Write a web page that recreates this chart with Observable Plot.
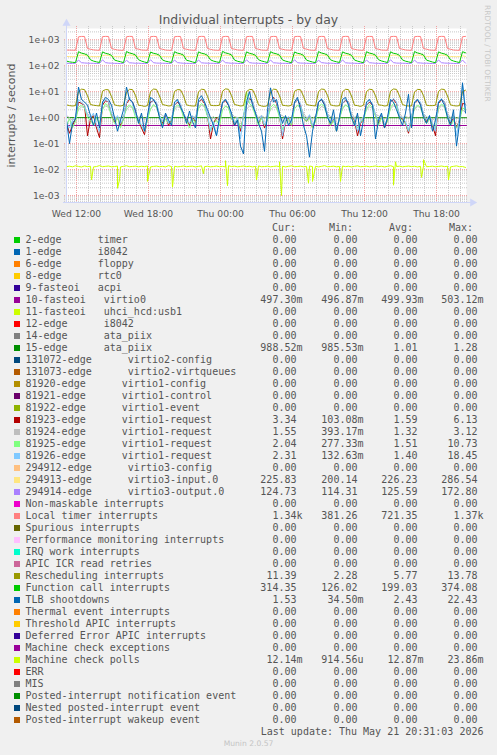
<!DOCTYPE html>
<html><head><meta charset="utf-8">
<script src="https://cdn.jsdelivr.net/npm/d3@7"></script>
<script src="https://cdn.jsdelivr.net/npm/@observablehq/plot@0.6"></script>
<style>
body{margin:0;background:#f0f0f0;width:497px;height:755px;position:relative;overflow:hidden;font-family:"DejaVu Sans",sans-serif;}
#chart{position:absolute;left:0;top:0;}
.title{position:absolute;left:0;width:497px;top:12px;text-align:center;font-size:12.4px;line-height:15px;color:#555;}
.wm{position:absolute;left:483px;top:5px;writing-mode:vertical-rl;font-size:7.5px;line-height:9px;color:#c8c8c8;white-space:nowrap;}
.mono{position:absolute;font-family:"DejaVu Sans Mono",monospace;font-size:10px;line-height:12px;color:#555;white-space:pre;}
.sw{position:absolute;width:6px;height:6px;}
.munin{position:absolute;left:0;width:497px;top:739px;text-align:center;font-size:7.6px;line-height:10px;color:#c4c4c4;}
</style></head>
<body>
<div class="title">Individual interrupts - by day</div>
<div class="wm">RRDTOOL / TOBI OETIKER</div>
<div id="chart"></div>
<div id="legend"></div>
<div class="munin">Munin 2.0.57</div>
<script>
// ---------- axis data ----------
const startTime = "2026-05-20T11:10:00Z";
const endTime = "2026-05-21T20:30:00Z";
const stepMinutes = 15;
const xTickTimes = ["2026-05-20T12:00:00Z","2026-05-20T18:00:00Z","2026-05-21T00:00:00Z","2026-05-21T06:00:00Z","2026-05-21T12:00:00Z","2026-05-21T18:00:00Z"];
const xTickLabels = ["Wed 12:00","Wed 18:00","Thu 00:00","Thu 06:00","Thu 12:00","Thu 18:00"];
const yTickValues = [1e-3,1e-2,1e-1,1,10,100,1000];
const yTickLabels = ["1e-03","1e-02","1e-01","1e+00","1e+01","1e+02","1e+03"];
const yDomain = [5.4e-4, 2.7e3];

// ---------- series (15-minute samples) ----------
const localTimer = [
400,398,395,392,1290,1335,1330,455,
430,405,395,390,1310,1340,1325,460,
425,400,392,390,1300,1345,1330,450,
435,402,395,392,1305,1340,1320,455,
428,400,390,388,1300,1335,1330,450,
430,404,394,390,1310,1345,1330,458,
426,400,392,390,1295,1340,1325,452,
432,402,395,391,1305,1340,1330,455,
430,400,393,389,1300,1338,1328,450,
428,403,395,392,1310,1342,1330,456,
434,401,392,390,1300,1340,1326,452,
430,400,394,390,1305,1345,1332,455,
427,402,393,391,1300,1338,1328,450,
431,400,395,390,1308,1342,1330,457,
429,403,392,389,1302,1340,1327,452,
433,401,394,391,1305,1345,1330,455,
430,400,393,390,1300,1340];
const functionCall = [
150,140,135,132,345,305,285,255,
168,150,140,133,340,300,280,250,
165,152,142,131,350,310,288,258,
170,150,138,130,335,300,282,252,
166,149,141,132,345,305,286,255,
162,151,139,130,340,302,284,250,
168,150,140,133,355,312,290,260,
165,148,139,131,340,300,280,252,
170,152,142,132,345,305,285,255,
166,150,140,130,338,300,283,250,
164,149,138,131,348,308,288,256,
168,151,141,133,340,302,282,252,
165,150,139,130,345,305,286,255,
170,152,142,132,342,300,284,250,
166,149,140,131,350,310,289,258,
164,150,138,130,340,303,283,252,
168,151,141,132,345,314];
const virtio3Input = [
226,224,222,224,240,258,250,232,
227,224,223,225,242,255,248,230,
226,223,222,224,238,260,251,233,
228,225,223,224,241,256,249,231,
226,224,222,223,240,259,250,232,
227,224,223,225,243,257,248,230,
225,223,222,224,239,258,251,233,
227,225,223,224,241,256,249,231,
226,224,222,223,240,260,250,232,
228,224,223,225,242,257,248,230,
226,223,222,224,238,258,251,233,
227,225,223,224,241,256,249,231,
226,224,222,223,240,259,250,232,
227,224,223,225,243,257,248,230,
225,223,222,224,239,258,251,233,
227,225,223,224,241,256,249,231,
226,224,222,224,240,226];
const virtio3Output = [
124,122,121,123,165,130,127,125,
124,123,121,122,168,131,126,125,
123,122,120,123,162,129,127,124,
125,122,121,122,170,130,126,125,
124,123,121,123,165,131,127,124,
123,122,120,122,166,129,126,125,
124,123,121,123,164,130,127,124,
125,122,121,122,168,131,126,125,
124,122,120,123,165,129,127,124,
123,123,121,122,170,130,126,125,
124,122,121,123,163,131,127,124,
125,123,120,122,167,129,126,125,
124,122,121,123,165,130,127,124,
123,122,121,122,169,131,126,125,
124,123,120,123,164,129,127,124,
125,122,121,122,166,130,126,125,
124,122,121,123,165,125];
const rescheduling = [
3.1,2.9,2.8,2.9,10,12.5,12,7,
3.2,3.0,2.9,2.8,10.5,12,11.8,6.5,
3.1,2.9,2.8,3.0,9.5,12.3,12,7.2,
3.0,2.9,2.7,2.9,10,12.6,12.2,6.8,
3.2,3.0,2.8,2.9,10.2,12,11.7,7,
3.1,2.9,2.8,2.8,9.8,12.4,12,6.6,
3.0,2.9,2.9,3.0,10.4,12.8,12.3,7.1,
3.2,3.0,2.8,2.9,10,12.2,11.9,6.9,
3.1,2.8,2.7,2.9,9.6,12.5,12.1,7,
3.0,2.9,2.8,3.0,10.3,12,11.8,6.7,
3.2,3.0,2.9,2.8,10,12.6,12.2,7.2,
3.1,2.9,2.8,2.9,9.9,12.3,12,6.8,
3.0,2.9,2.7,3.0,10.1,12.4,11.9,7,
3.1,3.0,2.8,2.9,10.5,12.7,12.2,6.9,
3.2,2.9,2.8,2.8,9.7,12.2,12,7.1,
3.0,2.9,2.9,3.0,10.2,12.5,12.1,6.8,
3.1,2.9,2.8,2.9,10,11.4];
const tlbShootdowns = [
0.8,0.1,0.6,0.9,15,5,4,3,
1.2,0.5,1.5,0.4,4,6,5,3,
1,0.3,0.8,2,15,5,4,2,
0.6,1.5,0.3,1.2,6,5,3,1,
0.4,1.5,0.8,0.5,4,5,2.5,1.5,
0.6,1.8,0.7,0.4,5,7,4,2,
1,0.5,0.2,1,4,5,3,1.5,
0.5,0.8,0.08,0.04,4,10,3,1.5,
0.6,0.3,0.05,2,14,4,5,1.5,
0.6,1.2,0.5,0.8,4,6,2,0.5,
0.2,0.03,0.3,1,4,5,3,1,
0.6,2,0.3,1,5,6,3,1,
0.5,1.5,0.2,0.8,4,5,3,0.15,
0.8,1.5,0.4,1,5,4,2,1,
0.5,1.5,8,0.4,4,5,3,1,
0.6,1.2,0.3,0.8,4,5,3,1,
0.5,2,0.08,0.6,22,1.5];
const req81923 = [
0.6,0.25,0.5,0.9,4,3.5,3,0.2,
0.9,1.2,0.4,0.17,3,4.5,4,1.2,
0.7,1,0.5,0.9,3.5,5,4,1.5,
0.8,0.4,0.22,1,4,4.5,3.5,1.1,
0.6,1.3,0.5,0.8,3,4,3,1.3,
0.9,0.5,1.1,0.7,4,5,3.5,1.2,
0.15,0.6,1,0.8,3.5,4.5,3,1,
0.5,0.9,0.3,1.2,3,5.5,4,1.4,
0.6,1.1,0.4,0.9,4,6,3.5,1.2,
0.15,0.7,1,0.5,3.5,5,3,1,
0.7,1.2,0.4,0.8,4,5,3.5,1.3,
0.5,0.9,0.3,1,3.5,4.5,4,1.1,
0.8,0.2,0.6,0.9,3,4,3,1.2,
0.6,1.2,0.4,0.8,4,5,3.5,1,
0.9,0.6,0.25,1,3.5,4.5,3.5,1.3,
0.7,1.1,0.5,0.2,3.5,5,4,1.2,
0.6,1,0.4,0.8,3.5,3.3];
const req81924 = [
1.2,1,0.8,1.1,2,2.6,2.4,1.4,
1,1.3,0.9,1,2.2,2.8,2.5,1.5,
1.1,0.9,1,1.2,2,2.7,2.3,1.4,
1,1.2,0.8,1.1,2.1,2.9,2.5,1.5,
1.2,1,0.9,1,2,2.6,2.4,1.3,
1,1.3,1,1.1,2.2,3,2.6,1.5,
0.9,1.1,0.8,1.2,2,2.7,2.3,1.4,
1.1,1,0.9,1,2.1,2.8,2.5,1.5,
1,1.2,1,1.1,2,2.6,2.4,1.3,
1.2,0.9,0.8,1,2.2,2.9,2.5,1.5,
1,1.1,0.9,1.2,2,2.7,2.4,1.4,
1.1,1,1,1,2.1,3.1,2.6,1.5,
1,1.2,0.8,1.1,2,2.6,2.3,1.3,
1.2,1,0.9,1,2.2,2.8,2.5,1.5,
1,1.1,1,1.2,2,2.7,2.4,1.4,
1.1,0.9,0.8,1,2.1,2.9,2.5,1.5,
1,1.2,0.9,1.1,2,1.6];
const req81925 = [
0.5,0.9,0.4,0.7,2.5,3,2.5,1,
0.8,0.5,1,0.6,2,3.5,2.8,1.1,
0.6,1,0.4,0.9,2.5,3,2.6,1,
0.7,0.5,0.3,0.8,2.2,3.2,2.5,1.2,
0.5,0.9,0.6,0.7,2.4,3,2.6,1,
0.8,0.4,0.9,0.6,2.5,3.5,2.8,1.1,
0.3,0.6,0.8,0.5,2,2.8,2.4,0.9,
0.6,0.9,0.4,1,10,3.5,2.7,1.1,
0.5,1,0.5,0.8,2.5,3.2,2.6,1,
0.35,0.6,0.9,0.5,2.2,3,2.5,1,
0.7,1,0.4,0.7,2.6,3.3,2.7,1.1,
0.5,0.8,0.3,0.9,2.4,3,2.6,1,
0.6,0.4,0.7,0.8,2.2,3.2,2.5,1.1,
0.5,1,0.5,0.7,2.5,3.5,2.8,1,
0.8,0.6,0.3,0.9,2.3,3,2.6,1.1,
0.6,0.9,0.5,0.4,2.5,3.3,2.7,1,
0.5,0.8,0.4,0.7,2.4,2.0];
const req81926 = [
0.6,0.4,0.8,1,5,4,3,1.2,
1,1.5,0.5,0.3,3.5,5,4,1.5,
0.8,1.2,0.6,1,4,6,3.5,1.3,
0.9,0.5,0.3,1.1,3.5,5,4,1.2,
0.7,1.4,0.6,0.9,3,4.5,3.5,1.4,
1,0.6,1.2,0.8,4,5.5,4,1.3,
0.3,0.7,0.2,0.9,3.5,5,3.5,1.1,
0.6,1,0.15,1.3,3,6,4.5,1.5,
0.7,1.2,0.5,1,4,5.5,4,1.3,
0.2,0.8,1.1,0.6,3.5,5,3.5,1.1,
0.8,1.3,0.5,0.9,4,5.5,4,1.4,
0.6,1,0.3,1.1,3.5,5,4,1.2,
0.9,0.3,0.7,1,3,4.5,3.5,1.3,
0.7,1.3,0.5,0.9,4,5.5,4,1.1,
1,0.7,0.3,1.1,3.5,5,4,1.4,
0.8,1.2,0.6,0.3,4,5.5,4,1.3,
0.7,1.1,0.2,0.9,18,2.3];
const mcPolls = [
0.013,0.0135,0.0128,0.014,0.0132,0.0126,0.0138,0.013,
0.0134,0.0127,0.0131,0.0142,0.0129,0.0133,0.0137,0.0128,
0.0131,0.0136,0.0127,0.0133,0.014,0.0129,0.0132,0.0135,
0.0128,0.0134,0.013,0.0138,0.0127,0.0132,0.0136,0.0129,
0.0133,0.0127,0.0141,0.013,0.0134,0.0128,0.0131,0.0137,
0.0129,0.0133,0.0135,0.0127,0.0132,0.0139,0.013,0.0134,
0.0128,0.0131,0.0136,0.0129,0.0133,0.0127,0.014,0.0131,
0.0135,0.0128,0.0132,0.0137,0.013,0.0134,0.0127,0.0133,
0.0138,0.0129,0.0131,0.0135,0.0128,0.0132,0.0136,0.013,
0.0134,0.0127,0.0133,0.0139,0.0129,0.0131,0.0135,0.0128,
0.0132,0.0137,0.013,0.0134,0.0127,0.0133,0.0141,0.0129,
0.0131,0.0135,0.0128,0.0132,0.0136,0.013,0.0134,0.0127,
0.0133,0.0138,0.0129,0.0131,0.0135,0.0128,0.0132,0.0137,
0.013,0.0134,0.0127,0.0133,0.014,0.0129,0.0131,0.0135,
0.0128,0.0132,0.0136,0.013,0.0134,0.0127,0.0133,0.0138,
0.0129,0.0131,0.0135,0.0128,0.0132,0.0137,0.013,0.0134,
0.0127,0.0133,0.0139,0.0129,0.0131,0.0121];
// narrow excursions of machine check polls: 5-minute step index from start, value
const mcPollSpikeSteps = [25,51,53,81,106,137,159,161,190,213,215,242,246,274,327,329,355,357,382];
const mcPollSpikeValues = [0.004,0.0019,0.004,0.0035,0.0021,0.007,0.022,0.0024,0.004,0.02,0.001,0.003,0.0035,0.0035,0.0025,0.02,0.005,0.024,0.004];
// nearly flat series: value at start and end
const virtio0Flat = [0.499, 0.497];
const ataPiix15Flat = [1.0, 0.988];

// ---------- legend ----------
const legendLabels = ["2-edge      timer","1-edge      i8042","6-edge      floppy","8-edge      rtc0","9-fasteoi   acpi","10-fasteoi   virtio0","11-fasteoi   uhci_hcd:usb1","12-edge      i8042","14-edge      ata_piix","15-edge      ata_piix","131072-edge      virtio2-config","131073-edge      virtio2-virtqueues","81920-edge      virtio1-config","81921-edge      virtio1-control","81922-edge      virtio1-event","81923-edge      virtio1-request","81924-edge      virtio1-request","81925-edge      virtio1-request","81926-edge      virtio1-request","294912-edge      virtio3-config","294913-edge      virtio3-input.0","294914-edge      virtio3-output.0","Non-maskable interrupts","Local timer interrupts","Spurious interrupts","Performance monitoring interrupts","IRQ work interrupts","APIC ICR read retries","Rescheduling interrupts","Function call interrupts","TLB shootdowns","Thermal event interrupts","Threshold APIC interrupts","Deferred Error APIC interrupts","Machine check exceptions","Machine check polls","ERR","MIS","Posted-interrupt notification event","Nested posted-interrupt event","Posted-interrupt wakeup event"];
const legendColors = ["#00CC00","#0066B3","#FF8000","#FFCC00","#330099","#990099","#CCFF00","#FF0000","#808080","#008F00","#00487D","#B35A00","#B38F00","#6B006B","#8FB300","#B30000","#BEBEBE","#80FF80","#80C9FF","#FFC080","#FFE680","#AA80FF","#EE00CC","#FF8080","#666600","#FFBFFF","#00FFCC","#CC6699","#999900","#00CC00","#0066B3","#FF8000","#FFCC00","#330099","#990099","#CCFF00","#FF0000","#808080","#008F00","#00487D","#B35A00"];
const curVals = ["0.00","0.00","0.00","0.00","0.00","497.30m","0.00","0.00","0.00","988.52m","0.00","0.00","0.00","0.00","0.00","3.34","1.55","2.04","2.31","0.00","225.83","124.73","0.00","1.34k","0.00","0.00","0.00","0.00","11.39","314.35","1.53","0.00","0.00","0.00","0.00","12.14m","0.00","0.00","0.00","0.00","0.00"];
const minVals = ["0.00","0.00","0.00","0.00","0.00","496.87m","0.00","0.00","0.00","985.53m","0.00","0.00","0.00","0.00","0.00","103.08m","393.17m","277.33m","132.63m","0.00","200.14","114.31","0.00","381.26","0.00","0.00","0.00","0.00","2.28","126.02","34.50m","0.00","0.00","0.00","0.00","914.56u","0.00","0.00","0.00","0.00","0.00"];
const avgVals = ["0.00","0.00","0.00","0.00","0.00","499.93m","0.00","0.00","0.00","1.01","0.00","0.00","0.00","0.00","0.00","1.59","1.32","1.51","1.40","0.00","226.23","125.59","0.00","721.35","0.00","0.00","0.00","0.00","5.77","199.03","2.43","0.00","0.00","0.00","0.00","12.87m","0.00","0.00","0.00","0.00","0.00"];
const maxVals = ["0.00","0.00","0.00","0.00","0.00","503.12m","0.00","0.00","0.00","1.28","0.00","0.00","0.00","0.00","0.00","6.13","3.12","10.73","18.45","0.00","286.54","172.80","0.00","1.37k","0.00","0.00","0.00","0.00","13.78","374.08","22.43","0.00","0.00","0.00","0.00","23.86m","0.00","0.00","0.00","0.00","0.00"];
const columnHeaders = ["Cur:","Min:","Avg:","Max:"];
const lastUpdate = "Last update: Thu May 21 20:31:03 2026";

// ---------- build ----------
const t0 = new Date(startTime), t1 = new Date(endTime);
const toRows = arr => arr.map((v, i) => ({t: new Date(+t0 + i * stepMinutes * 60000), v}));
const flatRows = arr => [{t: t0, v: arr[0]}, {t: t1, v: arr[1]}];
const mcRows = toRows(mcPolls).concat(mcPollSpikeSteps.map((s, i) => ({t: new Date(+t0 + s * 5 * 60000), v: mcPollSpikeValues[i]}))).sort((a, b) => a.t - b.t);

// draw order = legend order (later on top)
const series = [
  [flatRows(virtio0Flat), "#990099"],
  [flatRows(ataPiix15Flat), "#008F00"],
  [toRows(req81923), "#B30000"],
  [toRows(req81924), "#BEBEBE"],
  [toRows(req81925), "#80FF80"],
  [toRows(req81926), "#80C9FF"],
  [toRows(virtio3Input), "#FFE680"],
  [toRows(virtio3Output), "#AA80FF"],
  [toRows(localTimer), "#FF8080"],
  [toRows(rescheduling), "#999900"],
  [toRows(functionCall), "#00CC00"],
  [toRows(tlbShootdowns), "#0066B3"],
  [mcRows, "#CCFF00"]
];

const xTicks = xTickTimes.map(d => new Date(d));
const hours = d3.utcHour.range(d3.utcHour.ceil(t0), t1);
const majorHours = hours.filter(h => h.getUTCHours() % 6 === 0);
const minorHours = hours.filter(h => h.getUTCHours() % 6 !== 0);
const yMajor = d3.range(-3, 4).map(e => Math.pow(10, e));
const yMinor = [];
for (let e = -4; e <= 3; e++) for (let k = 2; k <= 9; k++) { const v = k * Math.pow(10, e); if (v > yDomain[0] && v < yDomain[1]) yMinor.push(v); }

const axisColor = "#CFD6F8";
const chart = Plot.plot({
  width: 497, height: 220,
  marginLeft: 66, marginRight: 31, marginTop: 28, marginBottom: 18,
  style: {background: "transparent", fontFamily: "DejaVu Sans", fontSize: "9.2px", color: "#555", overflow: "visible"},
  x: {type: "utc", domain: [t0, t1], ticks: xTicks, tickFormat: d => xTickLabels[xTicks.findIndex(t => +t === +d)], tickSize: 0, tickPadding: 7.5, label: null},
  y: {type: "log", domain: yDomain, ticks: yTickValues, tickFormat: d => yTickLabels[yTickValues.indexOf(d)], tickSize: 0, tickPadding: 7, label: null},
  marks: [
    Plot.frame({fill: "white", stroke: "none"}),
    Plot.ruleY(yMinor, {stroke: "#c8c8c8", strokeDasharray: "1,1", insetLeft: -2, insetRight: -2}),
    Plot.ruleX(minorHours, {stroke: "#c8c8c8", strokeDasharray: "1,1", insetBottom: -2, insetTop: -2}),
    Plot.ruleY(yMajor, {stroke: "#f0a0a0", strokeDasharray: "1,1", insetLeft: -2, insetRight: -2}),
    Plot.ruleX(majorHours, {stroke: "#f0a0a0", strokeDasharray: "1,1", insetBottom: -2, insetTop: -2}),
    ...series.map(([rows, c]) => Plot.line(rows, {x: "t", y: "v", stroke: c, strokeWidth: 1})),
    Plot.ruleX([t0], {stroke: axisColor, insetTop: -4}),
    Plot.ruleY([yDomain[0]], {stroke: axisColor, insetLeft: -3, insetRight: -5}),
    Plot.dot([{t: t0, v: yDomain[1]}], {x: "t", y: "v", symbol: "triangle", r: 3, fill: axisColor, stroke: "none", dy: -5}),
    Plot.dot([{t: t1, v: yDomain[0]}], {x: "t", y: "v", symbol: "triangle", r: 3, fill: axisColor, stroke: "none", rotate: 90, dx: 6}),
    Plot.text(["interrupts / second"], {frameAnchor: "left", dx: -55, rotate: -90, textAnchor: "middle", fontSize: 11, fill: "#555"})
  ]
});
document.getElementById("chart").appendChild(chart);

// legend (HTML)
const leg = document.getElementById("legend");
const add = (cls, style, text) => { const d = document.createElement("div"); d.className = cls; d.setAttribute("style", style); if (text != null) d.textContent = text; leg.appendChild(d); };
const rowTop0 = 240, rowH = 12;
const colRight = [302.5, 363.5, 423.5, 483.5];
const headRight = [296, 353, 413, 473];
columnHeaders.forEach((h, j) => add("mono", `left:${headRight[j]-60}px;width:60px;text-align:right;top:${228-6}px`, h));
const fmt = s => /[a-z]$/i.test(s) ? s : s + " ";
legendLabels.forEach((lab, i) => {
  const cy = rowTop0 + i * rowH;
  add("sw", `left:14px;top:${cy-3}px;background:${legendColors[i]}`);
  add("mono", `left:25.5px;top:${cy-6}px`, lab);
  [curVals, minVals, avgVals, maxVals].forEach((arr, j) => add("mono", `left:${colRight[j]-70}px;width:70px;text-align:right;top:${cy-6}px`, fmt(arr[i])));
});
add("mono", `left:183.5px;width:300px;text-align:right;top:${732-6}px`, lastUpdate);
</script>
</body></html>
